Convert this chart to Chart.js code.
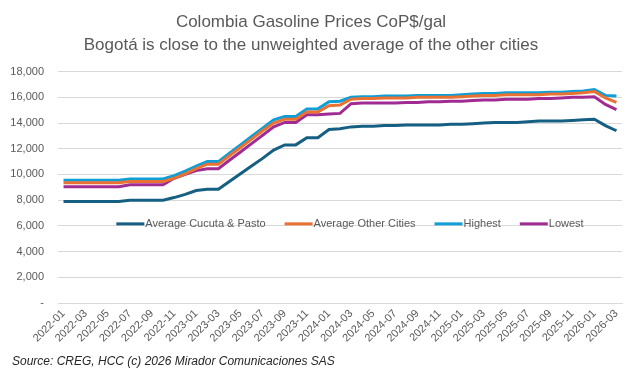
<!DOCTYPE html>
<html>
<head>
<meta charset="utf-8">
<script src="https://cdn.jsdelivr.net/npm/chart.js@4.4.1/dist/chart.umd.min.js"></script>
<style>
  html, body { margin: 0; padding: 0; background: #fff; }
  #wrap { width: 642px; height: 377px; position: relative; }
</style>
</head>
<body>
<div id="wrap"><canvas id="lineChart" width="642" height="377"></canvas></div>
<script>
// months 2022-01 .. 2026-03
var months = [
    '2022-01','2022-02','2022-03','2022-04','2022-05','2022-06','2022-07','2022-08','2022-09','2022-10','2022-11','2022-12',
    '2023-01','2023-02','2023-03','2023-04','2023-05','2023-06','2023-07','2023-08','2023-09','2023-10','2023-11','2023-12',
    '2024-01','2024-02','2024-03','2024-04','2024-05','2024-06','2024-07','2024-08','2024-09','2024-10','2024-11','2024-12',
    '2025-01','2025-02','2025-03','2025-04','2025-05','2025-06','2025-07','2025-08','2025-09','2025-10','2025-11','2025-12',
    '2026-01','2026-02','2026-03'
];

var cucutaPasto = [
    7900, 7900, 7900, 7900, 7900, 7900, 8000, 8000, 8000, 8000, 8200, 8450,
    8750, 8850, 8850, 9450, 10050, 10650, 11250, 11900, 12300, 12300, 12850, 12850,
    13500, 13550, 13700, 13750, 13750, 13800, 13800, 13850, 13850, 13850, 13850, 13900,
    13900, 13950, 14000, 14050, 14050, 14050, 14100, 14150, 14150, 14150, 14200, 14250,
    14300, 13800, 13400
];

var otherCities = [
    9350, 9350, 9350, 9350, 9350, 9350, 9450, 9450, 9450, 9450, 9700, 10050,
    10450, 10800, 10800, 11450, 12100, 12750, 13400, 14000, 14300, 14300, 14850, 14850,
    15350, 15400, 15850, 15900, 15900, 15950, 15950, 15950, 16000, 16000, 16000, 16000,
    16050, 16100, 16150, 16150, 16200, 16200, 16200, 16200, 16250, 16250, 16300, 16350,
    16450, 15950, 15600
];

var highest = [
    9550, 9550, 9550, 9550, 9550, 9550, 9650, 9650, 9650, 9650, 9900, 10250,
    10650, 11000, 11000, 11650, 12300, 12950, 13600, 14250, 14500, 14500, 15100, 15100,
    15650, 15700, 16000, 16050, 16050, 16100, 16100, 16100, 16150, 16150, 16150, 16150,
    16200, 16250, 16300, 16300, 16350, 16350, 16350, 16350, 16400, 16400, 16450, 16500,
    16600, 16150, 16100
];

var lowest = [
    9050, 9050, 9050, 9050, 9050, 9050, 9200, 9200, 9200, 9200, 9700, 10000,
    10300, 10450, 10450, 11100, 11750, 12400, 13050, 13700, 14050, 14050, 14650, 14650,
    14700, 14750, 15500, 15550, 15550, 15550, 15550, 15600, 15600, 15650, 15650, 15700,
    15700, 15750, 15800, 15800, 15850, 15850, 15850, 15900, 15900, 15950, 16000, 16000,
    16050, 15450, 15050
];

var yTicks = [0, 2000, 4000, 6000, 8000, 10000, 12000, 14000, 16000, 18000];

var judul = ['Colombia Gasoline Prices CoP$/gal', 'Bogotá is close to the unweighted average of the other cities'];
var sumber = 'Source: CREG, HCC (c) 2026 Mirador Comunicaciones SAS';

var fontUtama = "'Liberation Sans', Arial, sans-serif";

// legend drawn inside the plot area, like the original
var legendDalam = {
    id: 'legendDalam',
    afterDraw: function(chart) {
        var ctx = chart.ctx;
        var area = chart.chartArea;
        var y = chart.scales.y.getPixelForValue(6000) - 2;
        var lineLen = 28;
        var gap = 1;
        var spacing = 19;
        ctx.save();
        ctx.font = '11px ' + fontUtama;
        var total = 0;
        var items = chart.data.datasets.map(function(ds) {
            var w = ctx.measureText(ds.label).width;
            total += lineLen + gap + w;
            return { label: ds.label, color: ds.borderColor, w: w };
        });
        total += spacing * (items.length - 1);
        var x = (area.left + area.right) / 2 + 10 - total / 2;
        items.forEach(function(it) {
            ctx.strokeStyle = it.color;
            ctx.lineWidth = 3;
            ctx.beginPath();
            ctx.moveTo(x, y);
            ctx.lineTo(x + lineLen, y);
            ctx.stroke();
            ctx.fillStyle = '#595959';
            ctx.textBaseline = 'middle';
            ctx.textAlign = 'left';
            ctx.fillText(it.label, x + lineLen + gap, y);
            x += lineLen + gap + it.w + spacing;
        });
        ctx.restore();
    }
};

// source note bottom-left
var catatanSumber = {
    id: 'catatanSumber',
    afterDraw: function(chart) {
        var ctx = chart.ctx;
        ctx.save();
        ctx.font = 'italic 12px ' + fontUtama;
        ctx.fillStyle = '#262626';
        ctx.textBaseline = 'middle';
        ctx.textAlign = 'left';
        ctx.fillText(sumber, 12, 362);
        ctx.restore();
    }
};

var Linectx = document.getElementById('lineChart').getContext('2d');

function buatDataset(label, data, warna) {
    return {
        label: label,
        data: data,
        fill: false,
        borderColor: warna,
        backgroundColor: warna,
        borderWidth: 3,
        pointRadius: 0,
        tension: 0
    };
}

var myChart1 = new Chart(Linectx, {
    type: 'line',
    data: {
        labels: months,
        datasets: [
            buatDataset('Average Cucuta & Pasto', cucutaPasto, '#156082'),
            buatDataset('Average Other Cities', otherCities, '#E97132'),
            buatDataset('Highest', highest, '#0F9ED5'),
            buatDataset('Lowest', lowest, '#A02B93')
        ]
    },
    options: {
        responsive: false,
        animation: false,
        layout: {
            padding: { left: 0, right: 20, top: 0, bottom: 32 }
        },
        plugins: {
            legend: { display: false },
            tooltip: { enabled: false },
            title: {
                display: true,
                text: judul,
                color: '#595959',
                font: { family: fontUtama, size: 17, weight: 'normal', lineHeight: 1.4 },
                padding: { top: 10, bottom: 14 }
            }
        },
        scales: {
            x: {
                offset: true,
                grid: { display: false, drawTicks: false },
                border: { display: true, color: '#d9d9d9', width: 1 },
                ticks: {
                    autoSkip: false,
                    maxRotation: 45,
                    minRotation: 45,
                    color: '#595959',
                    padding: 4,
                    font: { family: fontUtama, size: 11 },
                    callback: function(value, index) {
                        return index % 2 === 0 ? months[index] : '';
                    }
                },
                afterFit: function(scale) { scale.height = 42; }
            },
            y: {
                min: 0,
                max: 18000,
                grid: { color: '#d9d9d9', lineWidth: 1, drawTicks: false },
                border: { display: false },
                afterBuildTicks: function(scale) {
                    scale.ticks = yTicks.map(function(v) { return { value: v }; });
                },
                ticks: {
                    color: '#595959',
                    padding: 14,
                    font: { family: fontUtama, size: 11 },
                    callback: function(value) {
                        if (value === 0) return '-';
                        return value.toLocaleString('en-US');
                    }
                },
                afterFit: function(scale) { scale.width = 58; }
            }
        }
    },
    plugins: [legendDalam, catatanSumber]
});
</script>
</body>
</html>
